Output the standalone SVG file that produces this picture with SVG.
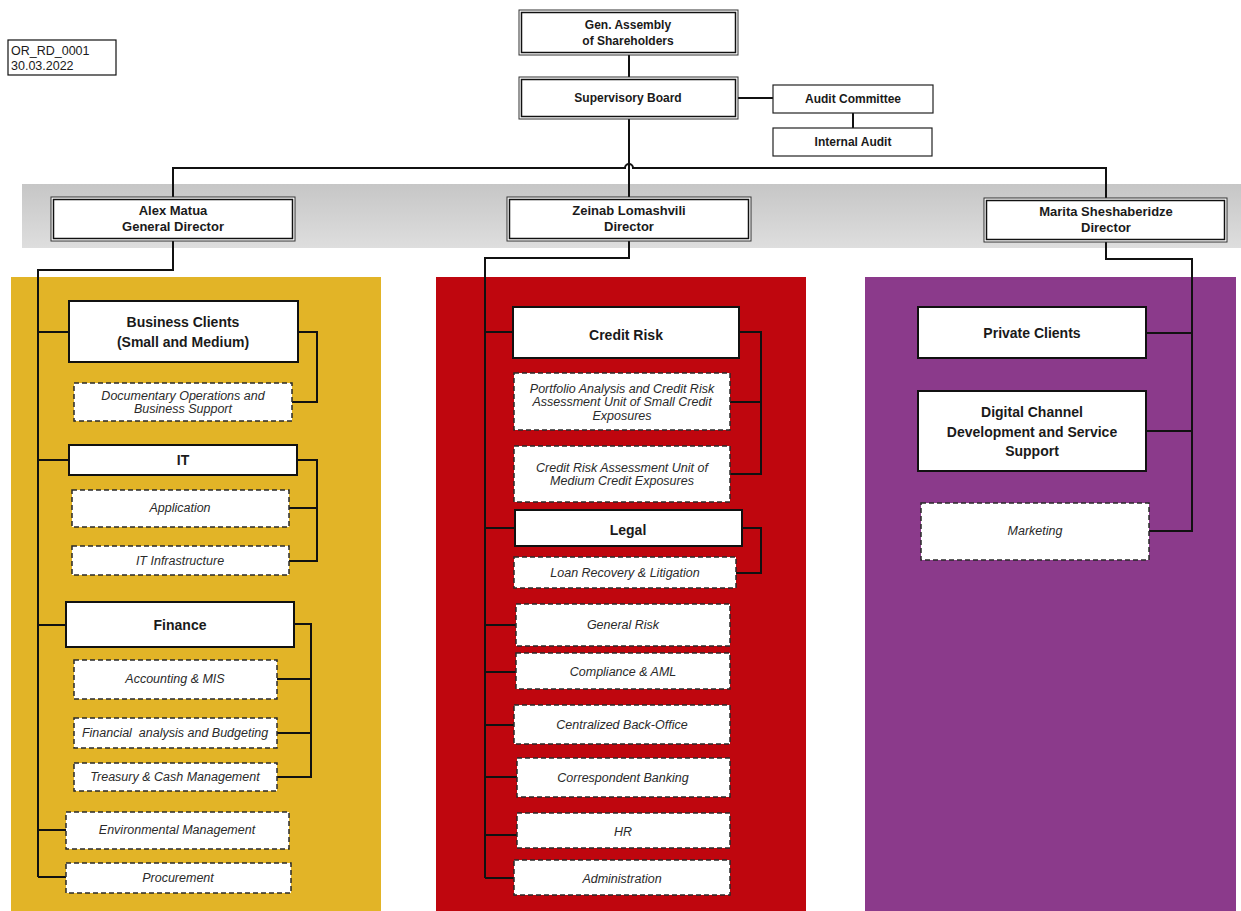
<svg xmlns="http://www.w3.org/2000/svg" width="1241" height="911" viewBox="0 0 1241 911">
<defs>
<linearGradient id="band" x1="0" y1="0" x2="0" y2="1">
<stop offset="0" stop-color="#c6c6c6"/>
<stop offset="1" stop-color="#dedede"/>
</linearGradient>
</defs>
<style>
.t{font-family:"Liberation Sans",Arial,sans-serif;fill:#1a1a1a;text-anchor:middle}
.b{font-weight:bold}
.h{font-size:12px;font-weight:bold}
.d{font-size:13px;font-weight:bold}
.u{font-size:14px;font-weight:bold}
.i{font-size:12.5px;font-style:italic;fill:#2a2a2a}
.solid{fill:#fff;stroke:#111;stroke-width:2}
.thin{fill:#fff;stroke:#222;stroke-width:1.2}
.outer{fill:#fff;stroke:#333;stroke-width:1}
.inner{fill:none;stroke:#111;stroke-width:1.5}
.dash{fill:#fff;stroke:#2a2a2a;stroke-width:1.5;stroke-dasharray:5 3}
.c{fill:none;stroke:#111;stroke-width:2}
</style>
<rect width="1241" height="911" fill="#fff"/>
<g id="backgrounds">
<rect x="22" y="184" width="1219" height="64" fill="url(#band)"/>
<rect x="11" y="277" width="370" height="634" fill="#e2b427"/>
<rect x="436" y="277" width="370" height="634" fill="#bf060e"/>
<rect x="865" y="277" width="371" height="634" fill="#8b3a8b"/>
</g>
<g id="connectors">
<path class="c" d="M629,55 V77"/>
<path class="c" d="M629,119 V197"/>
<path class="c" d="M738,98 H773"/>
<path class="c" d="M853,113 V128"/>
<path class="c" d="M173,197 V168 H625 A4,4 0 0 1 633,168 H1106 V198"/>
<path class="c" d="M173,241 V270 H38 V877"/>
<path class="c" d="M38,332 H69 M38,460 H69 M38,625 H66 M38,830 H66 M38,877 H66"/>
<path class="c" d="M298,332 H317 V402 H292"/>
<path class="c" d="M297,460 H317 V561 H289 M317,508 H289"/>
<path class="c" d="M294,624 H311 V777 H277 M311,679 H277 M311,733 H277"/>
<path class="c" d="M629,241 V258 H485 V878"/>
<path class="c" d="M485,332 H513 M485,528 H515 M485,625 H516 M485,672 H516 M485,725 H514 M485,777 H517 M485,835 H517 M485,878 H514"/>
<path class="c" d="M739,332 H761 V474 H730 M761,402 H730"/>
<path class="c" d="M742,528 H761 V573 H736"/>
<path class="c" d="M1106,242 V259 H1192 V531 H1149 M1192,333 H1146 M1192,431 H1146"/>
</g>
<g id="doc-ref">
<rect x="8" y="40" width="108" height="35" fill="#fff" stroke="#111" stroke-width="1.2"/>
<text x="11" y="55" font-family="Liberation Sans,Arial,sans-serif" font-size="12.5" fill="#1a1a1a">OR_RD_0001</text>
<text x="11" y="70" font-family="Liberation Sans,Arial,sans-serif" font-size="12.5" fill="#1a1a1a">30.03.2022</text>
</g>
<g id="gen-assembly">
<rect class="outer" x="519" y="10" width="219" height="45"/>
<rect class="inner" x="521.5" y="12.5" width="214" height="40"/>
<text class="t h" x="628" y="29">Gen. Assembly</text>
<text class="t h" x="628" y="45">of Shareholders</text>
</g>
<g id="supervisory-board">
<rect class="outer" x="519" y="77" width="219" height="42"/>
<rect class="inner" x="521.5" y="79.5" width="214" height="37"/>
<text class="t h" x="628" y="102">Supervisory Board</text>
</g>
<g id="audit-committee">
<rect class="thin" x="773" y="85" width="160" height="28"/>
<text class="t h" x="853" y="103">Audit Committee</text>
</g>
<g id="internal-audit">
<rect class="thin" x="773" y="128" width="159" height="28"/>
<text class="t h" x="853" y="146">Internal Audit</text>
</g>
<g id="alex-matua">
<rect class="outer" x="51" y="197" width="244" height="44"/>
<rect class="inner" x="53.5" y="199.5" width="239" height="39"/>
<text class="t d" x="173" y="215">Alex Matua</text>
<text class="t d" x="173" y="231">General Director</text>
</g>
<g id="zeinab-lomashvili">
<rect class="outer" x="507" y="197" width="244" height="44"/>
<rect class="inner" x="509.5" y="199.5" width="239" height="39"/>
<text class="t d" x="629" y="215">Zeinab Lomashvili</text>
<text class="t d" x="629" y="231">Director</text>
</g>
<g id="marita-sheshaberidze">
<rect class="outer" x="984" y="198" width="243" height="44"/>
<rect class="inner" x="986.5" y="200.5" width="238" height="39"/>
<text class="t d" x="1106" y="216">Marita Sheshaberidze</text>
<text class="t d" x="1106" y="232">Director</text>
</g>
<g id="business-clients">
<rect class="solid" x="69" y="301" width="229" height="61"/>
<text class="t u" x="183" y="327">Business Clients</text>
<text class="t u" x="183" y="347">(Small and Medium)</text>
</g>
<g id="documentary-operations">
<rect class="dash" x="74" y="383" width="218" height="38"/>
<text class="t i" x="183" y="400">Documentary Operations and</text>
<text class="t i" x="183" y="413">Business Support</text>
</g>
<g id="it">
<rect class="solid" x="69" y="445" width="228" height="30"/>
<text class="t u" x="183" y="465">IT</text>
</g>
<g id="application">
<rect class="dash" x="72" y="490" width="217" height="37"/>
<text class="t i" x="180" y="512">Application</text>
</g>
<g id="it-infrastructure">
<rect class="dash" x="72" y="546" width="217" height="29"/>
<text class="t i" x="180" y="565">IT Infrastructure</text>
</g>
<g id="finance">
<rect class="solid" x="66" y="602" width="228" height="45"/>
<text class="t u" x="180" y="630">Finance</text>
</g>
<g id="accounting-mis">
<rect class="dash" x="74" y="660" width="203" height="39"/>
<text class="t i" x="175" y="683">Accounting &amp; MIS</text>
</g>
<g id="financial-analysis">
<rect class="dash" x="74" y="718" width="203" height="30"/>
<text class="t i" x="175" y="737" xml:space="preserve">Financial  analysis and Budgeting</text>
</g>
<g id="treasury">
<rect class="dash" x="74" y="763" width="203" height="28"/>
<text class="t i" x="175" y="781">Treasury &amp; Cash Management</text>
</g>
<g id="environmental-management">
<rect class="dash" x="66" y="812" width="223" height="37"/>
<text class="t i" x="177" y="834">Environmental Management</text>
</g>
<g id="procurement">
<rect class="dash" x="66" y="863" width="225" height="30"/>
<text class="t i" x="178" y="882">Procurement</text>
</g>
<g id="credit-risk">
<rect class="solid" x="513" y="307" width="226" height="51"/>
<text class="t u" x="626" y="340">Credit Risk</text>
</g>
<g id="portfolio-analysis">
<rect class="dash" x="514" y="373" width="216" height="57"/>
<text class="t i" x="622" y="393">Portfolio Analysis and Credit Risk</text>
<text class="t i" x="622" y="406">Assessment Unit of Small Credit</text>
<text class="t i" x="622" y="420">Exposures</text>
</g>
<g id="credit-risk-medium">
<rect class="dash" x="514" y="446" width="216" height="56"/>
<text class="t i" x="622" y="472">Credit Risk Assessment Unit of</text>
<text class="t i" x="622" y="485">Medium Credit Exposures</text>
</g>
<g id="legal">
<rect class="solid" x="515" y="510" width="227" height="36"/>
<text class="t u" x="628" y="535">Legal</text>
</g>
<g id="loan-recovery">
<rect class="dash" x="514" y="557" width="222" height="31"/>
<text class="t i" x="625" y="577">Loan Recovery &amp; Litigation</text>
</g>
<g id="general-risk">
<rect class="dash" x="516" y="604" width="214" height="42"/>
<text class="t i" x="623" y="629">General Risk</text>
</g>
<g id="compliance-aml">
<rect class="dash" x="516" y="653" width="214" height="36"/>
<text class="t i" x="623" y="676">Compliance &amp; AML</text>
</g>
<g id="centralized-back-office">
<rect class="dash" x="514" y="705" width="216" height="39"/>
<text class="t i" x="622" y="729">Centralized Back-Office</text>
</g>
<g id="correspondent-banking">
<rect class="dash" x="517" y="758" width="213" height="39"/>
<text class="t i" x="623" y="782">Correspondent Banking</text>
</g>
<g id="hr">
<rect class="dash" x="517" y="813" width="213" height="35"/>
<text class="t i" x="623" y="836">HR</text>
</g>
<g id="administration">
<rect class="dash" x="514" y="860" width="216" height="35"/>
<text class="t i" x="622" y="883">Administration</text>
</g>
<g id="private-clients">
<rect class="solid" x="918" y="307" width="228" height="51"/>
<text class="t u" x="1032" y="338">Private Clients</text>
</g>
<g id="digital-channel">
<rect class="solid" x="918" y="391" width="228" height="80"/>
<text class="t u" x="1032" y="417">Digital Channel</text>
<text class="t u" x="1032" y="437">Development and Service</text>
<text class="t u" x="1032" y="456">Support</text>
</g>
<g id="marketing">
<rect class="dash" x="921" y="503" width="228" height="57"/>
<text class="t i" x="1035" y="535">Marketing</text>
</g>
</svg>
